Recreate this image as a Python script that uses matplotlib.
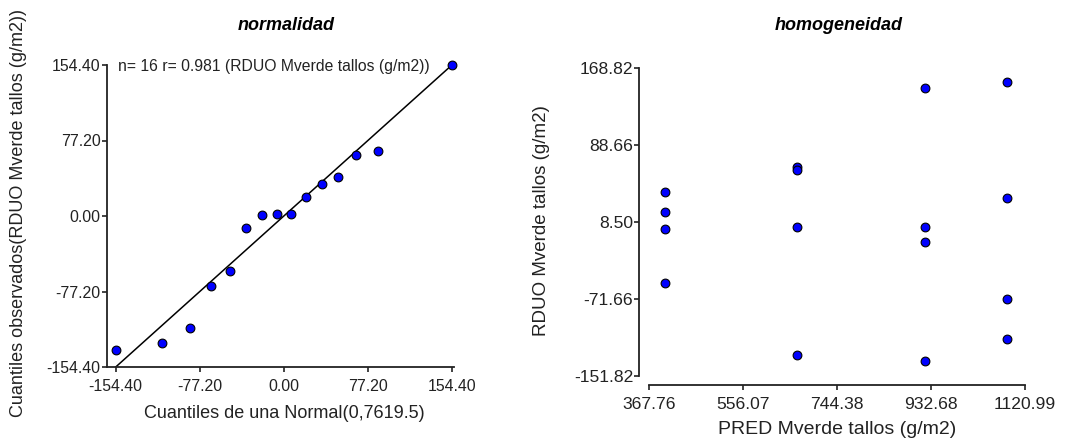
import matplotlib
matplotlib.use("Agg")
import matplotlib.pyplot as plt
import numpy as np

plt.rcParams['font.family'] = ['Liberation Sans', 'DejaVu Sans']

norm_q = [-154.3, -111.9, -86.2, -66.5, -49.7, -34.6, -20.4, -6.7,
          6.7, 20.4, 34.6, 49.7, 66.5, 86.2, 111.9, 154.3]
obs_q = [-137.0, -130.0, -114.5, -71.5, -56.5, -12.0, 1.0, 2.0,
         2.5, 19.0, 33.0, 39.8, 62.7, 66.0, 148.6, 154.8]
q_ticks = [-154.40, -77.20, 0.00, 77.20, 154.40]

# homogeneidad: predicted vs residuals
pred = [399.2, 399.2, 399.2, 399.2,
        663.3, 663.3, 663.3, 663.3,
        920.5, 920.5, 920.5, 920.5,
        1085.5, 1085.5, 1085.5, 1085.5]
resid = [39.8, 18.9, 1.2, -55.5,
         66.2, 62.7, 2.9, -130.2,
         148.6, 2.9, -12.1, -136.5,
         154.8, 33.8, -71.8, -113.5]
pred_ticks = [367.76, 556.07, 744.38, 932.68, 1120.99]
res_ticks = [-151.82, -71.66, 8.50, 88.66, 168.82]

W, H = 1068, 443
fig = plt.figure(figsize=(W/100, H/100), dpi=100)

def px_axes(l, t, r, b):
    return fig.add_axes([l/W, 1-b/H, (r-l)/W, (b-t)/H])

def style(ax, fs):
    for s in ['top', 'right']:
        ax.spines[s].set_visible(False)
    for s in ['left', 'bottom']:
        ax.spines[s].set_linewidth(1.3)
        ax.spines[s].set_color('#222222')
    ax.tick_params(direction='out', length=3.8, width=1.2, colors='#222222',
                   labelsize=fs)
    ax.tick_params(axis='x', pad=4.5)
    ax.tick_params(axis='y', pad=0.5)

mk = dict(marker='o', ms=6.3, mfc='#0000ff', mec='black', mew=0.8,
          ls='none', clip_on=False, zorder=3)

# ---- left: normalidad
ax1 = px_axes(106.7, 65, 454, 367)
ax1.set_xlim(-162.7, 156.3)
ax1.set_ylim(-154.4, 154.4)
lim = [q_ticks[0], q_ticks[-1]]
ax1.plot(lim, lim, color='black', lw=1.1, zorder=2)
ax1.plot(norm_q, obs_q, **mk)
ax1.set_xticks(q_ticks)
ax1.set_yticks(q_ticks)
ax1.set_xticklabels(['%.2f' % v for v in q_ticks])
ax1.set_yticklabels(['%.2f' % v for v in q_ticks])
style(ax1, 11.4)
ax1.text(117.5/W, 1-66/H, 'n= 16 r= 0.981 (RDUO Mverde tallos (g/m2))',
         transform=fig.transFigure, fontsize=11.3, va='center', ha='left',
         color='#222222', zorder=5,
         bbox=dict(facecolor='white', edgecolor='none', pad=3.5))

fig.text(286/W, 1-25/H, 'normalidad', fontsize=13, fontweight='bold',
         style='italic', ha='center', va='center')
fig.text(284.5/W, 1-413/H, 'Cuantiles de una Normal(0,7619.5)', fontsize=13,
         ha='center', va='center', color='#222222')
fig.text(19/W, 1-213/H, 'Cuantiles observados(RDUO Mverde tallos (g/m2))',
         fontsize=13, rotation=90, ha='center', va='center', color='#222222')

# ---- right: homogeneidad
ax2 = px_axes(639.3, 68.3, 1025, 385)
ax2.set_xlim(347.7, 1120.99)
ax2.set_ylim(-161.5, 168.82)
ax2.plot(pred, resid, **mk)
ax2.set_xticks(pred_ticks)
ax2.set_yticks(res_ticks)
ax2.set_xticklabels(['%.2f' % v for v in pred_ticks])
ax2.set_yticklabels(['%.2f' % v for v in res_ticks])
style(ax2, 12.6)
ax2.spines['bottom'].set_bounds(pred_ticks[0], pred_ticks[-1])
ax2.spines['left'].set_bounds(res_ticks[0], res_ticks[-1])

fig.text(839/W, 1-26/H, 'homogeneidad', fontsize=13, fontweight='bold',
         style='italic', ha='center', va='center')
fig.text(837/W, 1-430/H, 'PRED Mverde tallos (g/m2)', fontsize=14,
         ha='center', va='center', color='#222222')
fig.text(541/W, 1-221/H, 'RDUO Mverde tallos (g/m2)', fontsize=13.5,
         rotation=90, ha='center', va='center', color='#222222')

fig.savefig('out.png', dpi=100)
